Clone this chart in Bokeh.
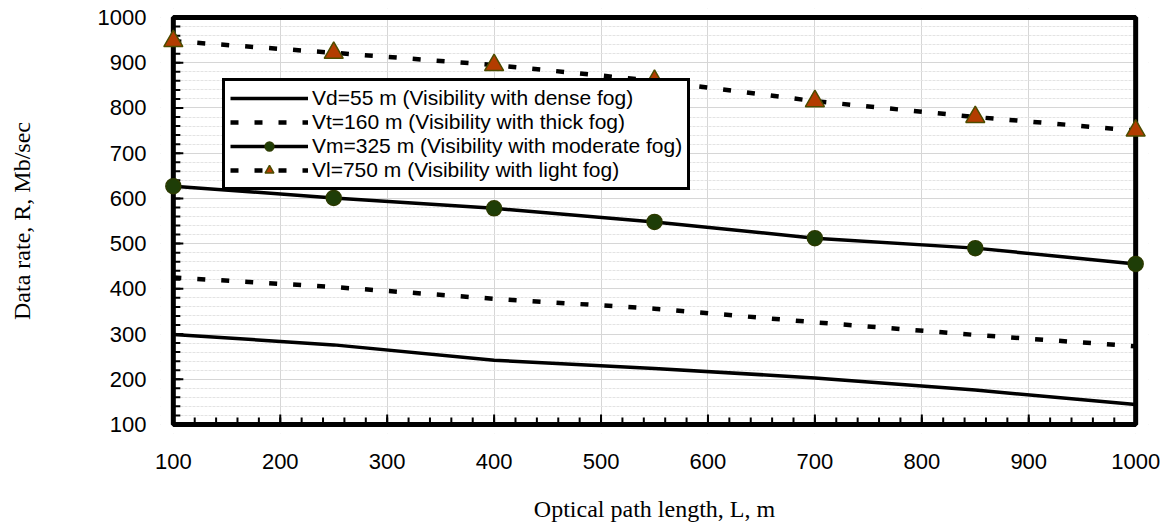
import math
from bokeh.plotting import figure
from bokeh.models import FixedTicker, Legend, LegendItem, Range1d, BoxAnnotation
from bokeh.embed import file_html
from bokeh.resources import INLINE

# Data
path_length = [100, 250, 400, 550, 700, 850, 1000]
vd_dense = [299, 276, 242, 224, 203, 176, 144]
vt_thick = [425, 404, 378, 356, 326, 298, 273]
vm_moderate = [627, 601, 578, 548, 512, 490, 455]
vl_light = [948, 922, 895, 860, 815, 780, 750]

x_ticks = [100, 200, 300, 400, 500, 600, 700, 800, 900, 1000]
y_ticks = [100, 200, 300, 400, 500, 600, 700, 800, 900, 1000]
x_minor = list(range(100, 1001, 20))
y_minor = list(range(100, 1001, 20))

labels = [
    "Vd=55 m (Visibility with dense fog)",
    "Vt=160 m (Visibility with thick fog)",
    "Vm=325 m (Visibility with moderate fog)",
    "Vl=750 m (Visibility with light fog)",
]

x_start, x_end = 100, 1000
y_start, y_end = 100, 1000
# padding so that edge markers are not clipped
dx, dy = 12, 20
x_lo, x_hi = x_start - dx, x_end + dx
y_lo, y_hi = y_start - dy, y_end + dy

p = figure(width=1167, height=524, output_backend="svg", toolbar_location=None,
           x_range=Range1d(x_lo, x_hi), y_range=Range1d(y_lo, y_hi),
           min_border_left=160, min_border_right=19, min_border_top=8, min_border_bottom=90)
p.background_fill_color = "white"
p.border_fill_color = "white"
p.outline_line_color = None

# Axes (labels only; frame and ticks drawn separately)
for ax in (p.xaxis[0], p.yaxis[0]):
    ax.axis_line_color = None
    ax.major_tick_line_color = None
    ax.minor_tick_line_color = None
    ax.major_label_text_font = "Liberation Sans"
    ax.major_label_text_font_size = "22px"
    ax.major_label_text_color = "black"
    ax.axis_label_text_font = "Liberation Serif"
    ax.axis_label_text_font_size = "24px"
    ax.axis_label_text_font_style = "normal"
    ax.axis_label_text_color = "black"

p.xaxis[0].ticker = FixedTicker(ticks=x_ticks, minor_ticks=x_minor)
p.yaxis[0].ticker = FixedTicker(ticks=y_ticks, minor_ticks=y_minor)
p.xaxis[0].major_label_standoff = 14
p.yaxis[0].major_label_standoff = 8
p.xaxis[0].axis_label = "Optical path length, L, m"
p.yaxis[0].axis_label = "Data rate, R, Mb/sec"
p.xaxis[0].axis_label_standoff = 24
p.yaxis[0].axis_label_standoff = 60

# Grid
p.xgrid.grid_line_color = "#d6d6d6"
p.xgrid.grid_line_width = 1
p.ygrid.grid_line_color = "#d6d6d6"
p.ygrid.grid_line_width = 1
p.ygrid.minor_grid_line_color = "#e3e3e3"
p.ygrid.minor_grid_line_width = 1
p.ygrid.minor_grid_line_dash = "3 1"

# white covers outside the data box (hide grid in padding)
for kw in (dict(left=x_lo, right=x_start, bottom=y_lo, top=y_hi),
           dict(left=x_end, right=x_hi, bottom=y_lo, top=y_hi),
           dict(left=x_lo, right=x_hi, bottom=y_lo, top=y_start),
           dict(left=x_lo, right=x_hi, bottom=y_end, top=y_hi)):
    p.add_layout(BoxAnnotation(fill_color="white", fill_alpha=1, line_color=None,
                               level="underlay", **kw))
# frame
p.add_layout(BoxAnnotation(left=x_start, right=x_end, bottom=y_start, top=y_end,
                           fill_alpha=0, line_color="black", line_alpha=1, line_width=5,
                           level="underlay"))

# inward ticks
p.ray(x=x_ticks, y=[y_start] * len(x_ticks), length=10, length_units="screen",
      angle=math.pi / 2, line_color="black", line_width=2)
p.ray(x=x_minor, y=[y_start] * len(x_minor), length=7, length_units="screen",
      angle=math.pi / 2, line_color="black", line_width=2)
p.ray(x=[x_start] * len(y_ticks), y=y_ticks, length=10, length_units="screen",
      angle=0, line_color="black", line_width=2)
p.ray(x=[x_start] * len(y_minor), y=y_minor, length=7, length_units="screen",
      angle=0, line_color="black", line_width=2)

dash = "8 16"
r1 = p.line(path_length, vd_dense, line_color="black", line_width=3.5)
r2 = p.line(path_length, vt_thick, line_color="black", line_width=4.5, line_dash=dash)
r3 = p.line(path_length, vm_moderate, line_color="black", line_width=3.5)
r3m = p.scatter(path_length, vm_moderate, marker="circle", size=15,
                fill_color="#1e3d07", line_color="#2b3a00", line_width=1.5)
r4 = p.line(path_length, vl_light, line_color="black", line_width=4.5, line_dash=dash)
r4m = p.scatter(path_length, vl_light, marker="triangle", size=19,
                fill_color="#b33c00", line_color="#4d4d00", line_width=1.5)

legend = Legend(items=[
    LegendItem(label=labels[0], renderers=[r1]),
    LegendItem(label=labels[1], renderers=[r2]),
    LegendItem(label=labels[2], renderers=[r3, r3m]),
    LegendItem(label=labels[3], renderers=[r4, r4m]),
], location=(62, 243))
legend.border_line_color = "black"
legend.border_line_alpha = 1
legend.border_line_width = 3
legend.background_fill_color = "white"
legend.background_fill_alpha = 1
legend.label_text_font = "Liberation Sans"
legend.label_text_font_size = "21px"
legend.label_text_color = "black"
legend.glyph_width = 78
legend.glyph_height = 22
legend.label_height = 22
legend.spacing = 0
legend.padding = 5
legend.margin = 0
legend.label_standoff = 4
p.add_layout(legend, "center")

open("out.html", "w").write(file_html(p, INLINE))
